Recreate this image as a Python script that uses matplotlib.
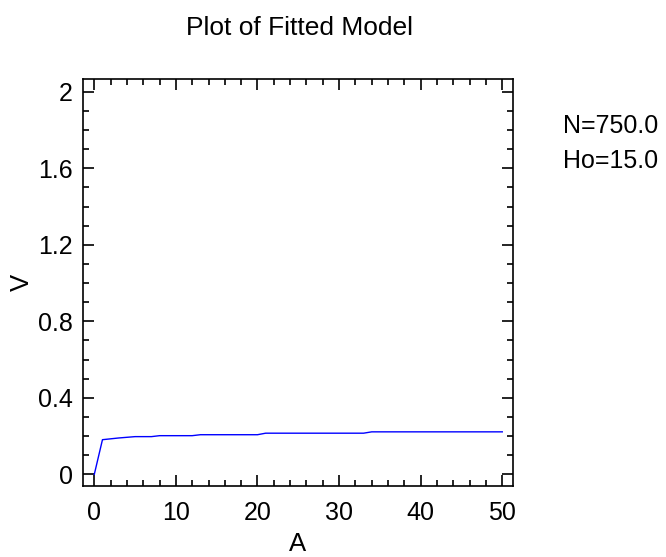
import matplotlib.pyplot as plt
from matplotlib.ticker import MultipleLocator

# fitted curve
A = [0, 1, 3, 5, 7, 8, 12, 13, 20, 21, 33, 34, 50]
V = [0, 0.181, 0.190, 0.197, 0.197, 0.202, 0.202, 0.207, 0.207, 0.215, 0.215, 0.222, 0.222]
params = ['N=750.0', 'Ho=15.0']

plt.rcParams['font.family'] = ['Liberation Sans', 'DejaVu Sans']

fig = plt.figure(figsize=(6.66, 5.57), dpi=100)
ax = fig.add_axes([0.1242, 0.1275, 0.6465, 0.7301])
ax.plot(A, V, color='#0000ff', linewidth=1.0)

ax.set_xlim(-1.42, 51.35)
ax.set_ylim(-0.061, 2.065)
ax.xaxis.set_major_locator(MultipleLocator(10))
ax.xaxis.set_minor_locator(MultipleLocator(2))
ax.yaxis.set_major_locator(MultipleLocator(0.4))
ax.yaxis.set_minor_locator(MultipleLocator(0.1))
ax.yaxis.set_major_formatter(lambda t, pos: f'{round(t, 2):g}')
ax.tick_params(which='both', direction='in', top=True, right=True, labelsize=18, width=1.2)
ax.tick_params(axis='x', which='major', length=8, pad=11)
ax.tick_params(axis='y', which='major', length=8, pad=7)
ax.tick_params(which='minor', length=4)
for s in ax.spines.values():
    s.set_linewidth(1.2)

ax.set_xlabel('A', fontsize=18.5)
ax.xaxis.set_label_coords(0.5, -0.112)
ax.set_ylabel('V', fontsize=18.5, va='center')
ax.yaxis.set_label_coords(-0.142, 0.5)

fig.text(0.4497, 1 - 35 / 557, 'Plot of Fitted Model', fontsize=19, ha='center', va='baseline')
fig.text(563 / 666, 1 - 133.3 / 557, params[0], fontsize=18, ha='left', va='baseline')
fig.text(563 / 666, 1 - 168.3 / 557, params[1], fontsize=18, ha='left', va='baseline')

fig.savefig('out.png', dpi=100)
